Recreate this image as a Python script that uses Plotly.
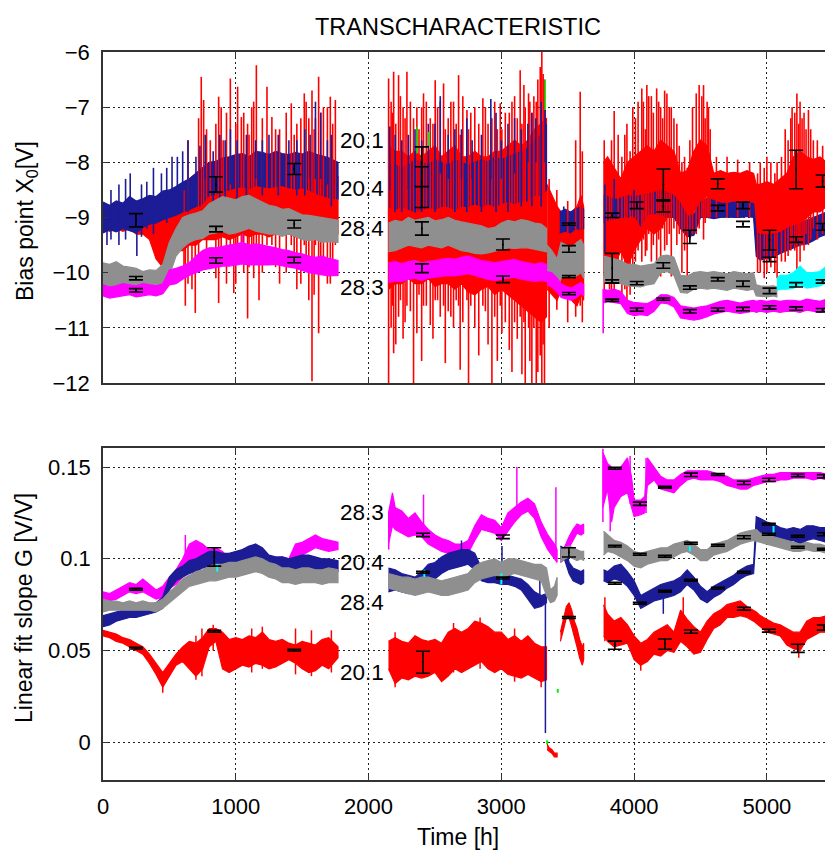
import plotly.graph_objects as go

# ---------------- time grids (hours) ----------------
SEG1_T = [0, 50, 100, 150, 200, 250, 300, 350, 400, 450, 500, 550, 600, 650, 700, 750, 800, 850, 900, 950,
          1000, 1050, 1100, 1150, 1200, 1250, 1300, 1350, 1400, 1450, 1500, 1550, 1600, 1650, 1700, 1770]
SEG2_T = [2150, 2200, 2250, 2300, 2350, 2400, 2450, 2500, 2550, 2600, 2650, 2700, 2750, 2800, 2850, 2900,
          2950, 3000, 3050, 3100, 3150, 3200, 3250, 3300, 3340]
SEG4_T = [3770, 3800, 3850, 3900, 3950, 4000, 4050, 4100, 4150, 4200, 4250, 4300, 4350, 4400, 4450, 4500,
          4550, 4600, 4650, 4700, 4750, 4800, 4850, 4900, 4920, 4950, 5000, 5050, 5100, 5150, 5200, 5250,
          5300, 5350, 5400, 5450, 5500]
SEG3_T = [3345, 3380, 3420, 3450, 3490, 3530, 3570, 3600, 3620]

# ---------------- TOP PANEL: bias point X0 [V] (band low / high) ----------------
X0_RED_T = SEG1_T + [None] + SEG2_T + [None] + SEG3_T + [None] + SEG4_T
X0_RED_HI = [-8.8, -8.82, -8.85, -8.8, -8.8, -8.85, -8.9, -8.9, -8.85, -8.9, -8.8, -8.7, -8.5, -8.3, -8.2,
             -8.1, -8.15, -8.1, -8.0, -8.05, -8.1, -8.1, -8.05, -8.1, -8.15, -8.1, -8.1, -8.15, -8.1, -8.1,
             -8.15, -8.1, -8.15, -8.2, -8.2, -8.25] + [None] + \
            [-7.7, -7.8, -7.8, -7.9, -7.8, -7.9, -7.8, -7.7, -7.9, -7.8, -7.7, -7.9, -7.9, -7.8, -7.9, -7.9,
             -7.8, -7.8, -7.7, -7.6, -7.7, -7.6, -7.4, -7.3, -7.2] + [None] + \
            [-8.4, -8.6, -8.8, -8.9, -9.0, -8.9, -8.8, -8.6, -8.8] + [None] + \
            [-8.0, -7.9, -8.1, -8.3, -8.0, -7.9, -7.8, -7.7, -7.8, -7.6, -7.7, -7.8, -8.2, -8.15, -7.8, -7.6,
             -7.7, -8.2, -8.15, -8.2, -8.18, -8.2, -8.15, -8.2, -8.4, -8.4, -8.35, -8.4, -8.3, -8.2, -7.9,
             -7.8, -7.9, -7.95, -7.9, -8.0, -7.9]
X0_RED_LO = [-9.2, -9.25, -9.2, -9.25, -9.2, -9.3, -9.3, -9.4, -9.75, -9.9, -9.7, -9.6, -9.6, -9.5, -9.5,
             -9.4, -9.4, -9.4, -9.35, -9.4, -9.35, -9.3, -9.35, -9.3, -9.3, -9.35, -9.3, -9.3, -9.3, -9.35,
             -9.3, -9.35, -9.4, -9.35, -9.3, -9.3] + [None] + \
            [-10.3, -10.2, -10.2, -10.1, -10.2, -10.2, -10.1, -10.25, -10.2, -10.2, -10.3, -10.2, -10.35,
             -10.4, -10.3, -10.25, -10.4, -10.3, -10.4, -10.5, -10.6, -10.7, -10.8, -10.9, -10.8] + [None] + \
            [-10.3, -10.4, -10.5, -10.3, -10.4, -10.5, -10.6, -10.4, -10.5] + [None] + \
            [-10.05, -10.0, -9.9, -9.6, -9.9, -9.6, -9.4, -9.2, -9.3, -9.2, -9.0, -8.9, -9.2, -9.3, -8.9, -8.7,
             -8.6, -8.8, -8.8, -8.8, -8.82, -8.8, -8.85, -8.9, -9.5, -9.55, -9.5, -9.5, -9.4, -9.3, -9.2,
             -9.1, -9.0, -8.9, -8.9, -8.8, -8.9]

X0_BLUE_T = SEG1_T + [None] + SEG2_T + [None] + [3440, 3480, 3520, 3560, 3600, 3620] + [None] + SEG4_T
X0_BLUE_HI = [-8.72, -8.78, -8.7, -8.74, -8.62, -8.7, -8.66, -8.6, -8.62, -8.52, -8.5, -8.44, -8.36, -8.3,
              -8.2, -8.1, -8.0, -7.98, -7.92, -7.9, -7.86, -7.84, -7.9, -7.8, -7.82, -7.86, -7.8, -7.84,
              -7.86, -7.82, -7.85, -7.8, -7.85, -7.88, -7.92, -8.0] + [None] + \
             [-8.0, -8.05, -8.1, -8.05, -7.95, -8.0, -8.05, -7.95, -8.0, -8.05, -7.95, -8.0, -8.05, -8.0,
              -7.95, -8.0, -7.9, -7.95, -7.9, -7.85, -7.8, -7.75, -7.6, -7.5, -7.3] + [None] + \
             [-8.9, -8.85, -8.9, -8.85, -8.8, -8.85] + [None] + \
             [-8.6, -8.62, -8.68, -8.65, -8.6, -8.62, -8.6, -8.58, -8.55, -8.5, -8.55, -8.6, -8.75, -8.98,
              -8.95, -8.72, -8.65, -8.7, -8.74, -8.75, -8.72, -8.74, -8.72, -8.75, -9.28, -9.3, -9.32, -9.3,
              -9.28, -9.2, -9.15, -9.1, -9.05, -9.0, -8.95, -8.9, -8.9]
X0_BLUE_LO = [-9.28, -9.22, -9.26, -9.2, -9.24, -9.28, -9.18, -9.12, -9.1, -9.04, -9.0, -8.96, -8.9, -8.86,
              -8.8, -8.74, -8.6, -8.58, -8.52, -8.5, -8.46, -8.44, -8.48, -8.42, -8.44, -8.46, -8.44, -8.42,
              -8.46, -8.48, -8.46, -8.5, -8.56, -8.6, -8.64, -8.66] + [None] + \
             [-8.8, -8.85, -8.8, -8.85, -8.9, -8.85, -8.8, -8.85, -8.8, -8.8, -8.85, -8.8, -8.8, -8.75, -8.8,
              -8.75, -8.8, -8.75, -8.7, -8.75, -8.7, -8.7, -8.6, -8.6, -8.5] + [None] + \
             [-9.28, -9.25, -9.28, -9.2, -9.22, -9.2] + [None] + \
             [-9.1, -9.05, -9.02, -9.0, -9.0, -8.95, -9.15, -8.95, -8.92, -8.95, -9.0, -9.0, -9.2, -9.35,
              -9.32, -9.0, -9.0, -9.02, -9.0, -8.99, -9.0, -9.0, -8.98, -9.0, -9.7, -9.77, -9.75, -9.72,
              -9.65, -9.6, -9.55, -9.5, -9.48, -9.42, -9.35, -9.3, -9.3]

X0_GRAY_T = SEG1_T + [None] + SEG2_T + [None] + SEG3_T + [None] + \
            [3770, 3800, 3850, 3900, 3950, 4000, 4050, 4100, 4150, 4200, 4250, 4300, 4350, 4400, 4450, 4500,
             4550, 4600, 4650, 4700, 4750, 4800, 4850, 4900, 4920, 4950, 5000, 5050, 5075]
X0_GRAY_HI = [-9.82, -9.85, -9.8, -9.88, -9.9, -9.92, -9.98, -9.95, -9.96, -9.85, -9.45, -9.2, -9.0, -8.95,
              -8.92, -8.88, -8.75, -8.68, -8.62, -8.65, -8.68, -8.62, -8.6, -8.66, -8.72, -8.78, -8.8, -8.85,
              -8.84, -8.9, -8.95, -8.96, -8.98, -9.0, -9.02, -9.05] + [None] + \
             [-9.1, -9.05, -9.08, -9.0, -9.05, -9.02, -9.0, -9.06, -9.04, -9.0, -9.05, -9.08, -9.1, -9.12,
              -9.15, -9.2, -9.18, -9.1, -9.05, -9.08, -9.04, -9.06, -9.1, -9.12, -9.2] + [None] + \
             [-9.5, -9.6, -9.75, -9.45, -9.5, -9.55, -9.45, -9.4, -9.5] + [None] + \
             [-9.7, -9.72, -9.75, -9.78, -9.85, -9.85, -9.88, -9.86, -9.84, -9.7, -9.68, -9.72, -10.05,
              -10.06, -10.0, -9.98, -10.0, -9.98, -10.0, -10.02, -9.98, -10.0, -10.02, -10.0, -10.22, -10.24,
              -10.25, -10.24, -10.26]
X0_GRAY_LO = [-10.3, -10.34, -10.3, -10.28, -10.32, -10.36, -10.35, -10.38, -10.34, -10.3, -10.05, -9.7,
              -9.55, -9.45, -9.4, -9.38, -9.3, -9.28, -9.25, -9.3, -9.28, -9.24, -9.2, -9.25, -9.28, -9.3,
              -9.3, -9.34, -9.3, -9.35, -9.4, -9.42, -9.4, -9.45, -9.44, -9.45] + [None] + \
             [-9.62, -9.6, -9.55, -9.5, -9.52, -9.55, -9.5, -9.52, -9.55, -9.5, -9.55, -9.6, -9.62, -9.65,
              -9.66, -9.64, -9.62, -9.58, -9.55, -9.56, -9.55, -9.55, -9.58, -9.6, -9.62] + [None] + \
             [-9.95, -10.1, -10.3, -10.1, -10.05, -10.1, -10.05, -10.0, -10.1] + [None] + \
             [-10.15, -10.2, -10.18, -10.2, -10.24, -10.25, -10.26, -10.22, -10.2, -10.0, -9.98, -10.05,
              -10.36, -10.37, -10.3, -10.28, -10.3, -10.28, -10.3, -10.32, -10.28, -10.3, -10.32, -10.3,
              -10.42, -10.43, -10.44, -10.42, -10.44]

X0_MAG_T = SEG1_T + [None] + SEG2_T + [None] + SEG3_T + [None] + SEG4_T
X0_MAG_HI = [-10.22, -10.26, -10.24, -10.2, -10.22, -10.24, -10.2, -10.22, -10.24, -10.2, -9.95, -9.92,
             -9.88, -9.82, -9.7, -9.6, -9.55, -9.55, -9.52, -9.5, -9.48, -9.45, -9.5, -9.48, -9.5, -9.52,
             -9.55, -9.58, -9.6, -9.64, -9.66, -9.7, -9.72, -9.7, -9.74, -9.78] + [None] + \
            [-9.82, -9.8, -9.84, -9.8, -9.78, -9.82, -9.8, -9.78, -9.75, -9.74, -9.76, -9.72, -9.7, -9.74,
             -9.78, -9.8, -9.82, -9.8, -9.78, -9.76, -9.8, -9.82, -9.85, -9.82, -9.85] + [None] + \
            [-9.98, -10.0, -10.1, -10.2, -10.25, -10.28, -10.22, -10.18, -10.22] + [None] + \
            [-10.3, -10.32, -10.3, -10.34, -10.5, -10.54, -10.55, -10.56, -10.5, -10.4, -10.4, -10.45, -10.6,
             -10.62, -10.64, -10.62, -10.6, -10.56, -10.52, -10.5, -10.52, -10.55, -10.52, -10.5, -10.52,
             -10.5, -10.52, -10.5, -10.52, -10.5, -10.5, -10.52, -10.48, -10.5, -10.52, -10.48, -10.5]
X0_MAG_LO = [-10.42, -10.46, -10.44, -10.42, -10.4, -10.44, -10.42, -10.4, -10.42, -10.38, -10.22, -10.2,
             -10.12, -10.05, -10.0, -9.95, -9.92, -9.9, -9.88, -9.88, -9.86, -9.84, -9.86, -9.85, -9.86,
             -9.86, -9.85, -9.88, -9.9, -9.92, -9.96, -10.0, -10.02, -10.04, -10.06, -10.05] + [None] + \
            [-10.18, -10.15, -10.16, -10.12, -10.1, -10.14, -10.1, -10.08, -10.06, -10.05, -10.06, -10.04,
             -10.02, -10.05, -10.08, -10.12, -10.14, -10.12, -10.1, -10.08, -10.12, -10.14, -10.16, -10.14,
             -10.16] + [None] + \
            [-10.22, -10.26, -10.35, -10.45, -10.48, -10.5, -10.44, -10.38, -10.42] + [None] + \
            [-10.55, -10.52, -10.54, -10.56, -10.74, -10.78, -10.76, -10.78, -10.7, -10.55, -10.56, -10.62,
             -10.82, -10.84, -10.86, -10.84, -10.8, -10.75, -10.72, -10.7, -10.72, -10.74, -10.72, -10.7,
             -10.72, -10.7, -10.72, -10.7, -10.72, -10.7, -10.7, -10.72, -10.68, -10.7, -10.72, -10.7, -10.7]

X0_CYAN_T = [5075, 5100, 5150, 5200, 5250, 5300, 5350, 5400, 5450, 5500]
X0_CYAN_HI = [-10.1, -10.05, -10.05, -10.0, -9.88, -10.0, -10.0, -9.98, -9.88, -9.92]
X0_CYAN_LO = [-10.32, -10.3, -10.3, -10.28, -10.22, -10.28, -10.26, -10.24, -10.18, -10.2]

# spikes (hour, low, high)
X0_RED_SPIKE_X = [620, 670, 695, 740, 758, 808, 871, 905, 959, 985, 1014, 1042, 1089, 1120, 1155, 1175, 1235,
                  1272, 1330, 1418, 1460, 1516, 1550, 1574, 1600, 1624, 1660, 1712, 1750,
                  610, 640, 720, 780, 850, 890, 930, 1000, 1060, 1100, 1135, 1200, 1300, 1380, 1440, 1490,
                  1530, 1590, 1640, 1690, 1730,
                  2151, 2170, 2189, 2226, 2260, 2289, 2339, 2364, 2414, 2465, 2502, 2540, 2565, 2578, 2620,
                  2678, 2690, 2741, 2753, 2800, 2861, 2900, 2929, 2992, 3004, 3060, 3100, 3142, 3155, 3180,
                  3205, 3230, 3263, 3293, 3305, 3325,
                  2180, 2205, 2240, 2275, 2315, 2380, 2400, 2435, 2485, 2520, 2600, 2640, 2660, 2710, 2770,
                  2830, 2880, 2950, 2970, 3030, 3080, 3120, 3170, 3215, 3245, 3275, 3315,
                  3360, 3418, 3500, 3560, 3594, 3610,
                  3775, 3815, 3850, 3908, 3946, 3990, 4058, 4096, 4130, 4170, 4200, 4247, 4280, 4322, 4360,
                  4400, 4468, 4490, 4523, 4550, 4573, 4620, 4700, 4780, 4870, 4950, 5000, 5077, 5138, 5180,
                  5226, 5250, 5280, 5313, 5380, 5464,
                  4010, 4030, 4070, 4085, 4110, 4145, 4185, 4215, 4230, 4265, 4300, 4340, 4380, 4420, 4440,
                  4510, 4535, 4560, 3790, 3830, 3880, 3930, 3970, 5190, 5210, 5240, 5265, 5295, 5330, 5350,
                  5420, 5490, 4930, 4980, 5030, 5060, 5110, 5160]
X0_RED_SPIKE_LO = [-10.6, -10.3, -10.73, -9.0, -9.0, -9.0, -10.55, -9.0, -9.5, -10.37, -9.5, -9.5, -10.83,
                   -9.5, -9.5, -10.5, -9.5, -9.5, -10.2, -9.5, -10.3, -9.5, -10.5, -11.97, -9.5, -11.1,
                   -10.0, -10.2, -9.5,
                   -10.0, -10.2, -10.0, -9.9, -10.1, -9.8, -10.2, -10.2, -10.0, -9.9, -10.1, -10.0, -9.9,
                   -10.0, -9.8, -10.2, -9.9, -10.4, -10.0, -10.2, -9.8,
                   -12.0, -11.0, -11.46, -10.8, -11.2, -10.6, -12.0, -11.1, -10.6, -10.95, -10.5, -10.8,
                   -10.6, -11.64, -10.8, -10.6, -11.76, -10.5, -12.0, -11.0, -10.6, -11.3, -12.0, -10.6,
                   -11.1, -11.4, -10.9, -10.8, -11.84, -12.0, -11.0, -12.0, -12.0, -11.5, -12.0, -12.0,
                   -10.6, -11.3, -10.5, -10.9, -10.7, -10.4, -11.6, -10.6, -11.2, -10.5, -10.7, -11.0, -10.5,
                   -10.9, -10.6, -11.5, -10.7, -10.8, -11.6, -10.9, -11.8, -11.2, -10.9, -11.6, -11.0, -11.8,
                   -11.3,
                   -11.0, -10.67, -10.9, -10.8, -10.6, -10.9,
                   -10.5, -10.3, -10.3, -10.5, -10.5, -10.1, -9.8, -9.6, -9.8, -9.9, -10.07, -9.5, -10.07,
                   -9.5, -10.0, -10.07, -9.3, -9.2, -9.4, -9.0, -9.0, -9.0, -9.0, -9.0, -9.0, -10.0, -10.0,
                   -10.1, -9.8, -9.6, -10.0, -9.8, -9.6, -9.5, -9.4, -9.3,
                   -9.8, -9.6, -9.4, -9.7, -9.3, -9.5, -9.4, -9.2, -9.6, -9.3, -9.2, -9.3, -9.6, -9.4, -9.3,
                   -9.0, -9.1, -9.0, -10.0, -10.3, -10.2, -10.3, -10.4, -9.5, -9.6, -9.4, -9.5, -9.3, -9.4,
                   -9.2, -9.3, -9.2, -10.0, -10.1, -9.9, -10.0, -9.8, -9.7]
X0_RED_SPIKE_HI = [-9.0, -9.0, -9.0, -6.45, -6.87, -7.6, -6.81, -7.6, -6.48, -8.5, -6.63, -7.18, -7.3, -7.0,
                   -6.24, -8.5, -6.63, -7.18, -7.4, -6.93, -7.3, -6.75, -7.2, -6.7, -7.2, -6.45, -7.0, -6.81,
                   -6.87,
                   -8.5, -7.6, -7.2, -7.4, -7.3, -7.0, -7.1, -7.3, -7.1, -7.5, -6.9, -7.2, -7.4, -7.1, -7.5,
                   -7.2, -6.9, -7.4, -7.1, -7.0, -7.3,
                   -6.48, -6.9, -6.36, -6.42, -7.0, -6.36, -7.2, -7.0, -6.75, -7.2, -6.51, -6.9, -6.57, -7.4,
                   -6.9, -6.42, -7.5, -7.05, -7.4, -7.0, -6.84, -7.3, -7.2, -6.93, -7.4, -7.1, -6.8, -6.33,
                   -7.3, -7.0, -6.75, -7.1, -6.9, -6.27, -6.0, -6.5,
                   -7.1, -7.3, -6.8, -7.2, -6.9, -7.4, -7.0, -6.9, -7.3, -7.0, -7.2, -6.9, -7.3, -6.8, -7.1,
                   -7.3, -7.0, -6.9, -7.4, -7.1, -6.9, -7.2, -6.6, -6.9, -6.8, -6.5, -6.4,
                   -8.3, -8.5, -8.7, -7.6, -6.72, -7.8,
                   -7.6, -7.96, -7.07, -7.9, -7.3, -7.0, -6.66, -6.6, -6.8, -6.66, -7.0, -6.75, -7.0, -7.3,
                   -8.0, -8.1, -6.75, -6.6, -6.6, -6.9, -7.4, -7.9, -7.9, -7.95, -8.0, -8.0, -7.9, -8.0,
                   -7.4, -7.2, -6.75, -6.9, -7.1, -7.05, -7.6, -7.9,
                   -7.2, -6.9, -6.9, -7.4, -6.8, -7.1, -6.9, -7.2, -6.7, -7.0, -7.2, -7.7, -7.9, -7.6, -7.0,
                   -6.8, -7.2, -7.0, -8.0, -7.6, -7.5, -7.5, -7.8, -7.0, -7.1, -7.3, -7.2, -7.4, -7.4, -7.6,
                   -7.7, -7.8, -8.2, -8.1, -8.0, -8.2, -7.9, -7.6]

X0_BLUE_SPIKE_X = [30, 205, 255, 330, 440, 520, 560, 700, 770, 830, 960, 1010, 1150, 1250, 1400, 1560, 1600,
                   1640, 1690, 2160, 2300, 2450, 2540, 2600, 2700, 2780, 2921, 3000, 3100, 3200, 3260, 3330,
                   3470, 3780, 3850, 4000,
                   60, 120, 170, 290, 380, 480, 600, 640, 730, 880, 920, 1080, 1200, 1320, 1460, 1520, 1720,
                   2200, 2250, 2350, 2400, 2500, 2650, 2740, 2850, 2960, 3050, 3150, 3230, 3300]
X0_BLUE_SPIKE_LO = [-9.5, -9.0, -9.7, -9.2, -9.0, -8.6, -8.6, -8.4, -8.3, -8.8, -8.4, -8.8, -8.3, -8.3, -8.3,
                    -8.3, -8.3, -8.3, -8.4, -8.5, -8.5, -8.3, -8.2, -8.3, -8.3, -8.3, -8.3, -8.3, -8.2, -8.0,
                    -8.0, -8.0, -9.0, -9.65, -9.0, -9.0,
                    -9.4, -9.5, -9.4, -9.35, -9.3, -9.1, -8.9, -8.9, -8.8, -8.7, -8.7, -8.6, -8.6, -8.6, -8.6,
                    -8.6, -8.8, -8.9, -8.9, -8.9, -8.9, -8.9, -8.9, -8.9, -8.9, -8.9, -8.9, -8.8, -8.8, -8.8]
X0_BLUE_SPIKE_HI = [-8.9, -8.2, -9.0, -8.35, -8.2, -7.9, -7.9, -7.9, -7.5, -7.8, -7.4, -7.6, -7.6, -7.5, -7.6,
                    -7.5, -6.9, -7.1, -7.6, -7.35, -7.5, -7.3, -6.8, -7.5, -7.4, -7.6, -6.85, -7.6, -7.2, -7.3,
                    -7.2, -7.05, -8.8, -8.4, -8.3, -8.5,
                    -8.5, -8.4, -8.3, -8.4, -8.1, -8.1, -7.8, -7.6, -7.7, -7.5, -7.6, -7.5, -7.6, -7.5, -7.6,
                    -7.4, -7.5, -7.5, -7.6, -7.4, -7.6, -7.3, -7.4, -7.2, -7.5, -7.1, -7.3, -7.4, -7.1, -6.9]

X0_MAG_SPIKE_X = [1050, 3767]
X0_MAG_SPIKE_LO = [-9.7, -11.1]
X0_MAG_SPIKE_HI = [-9.3, -10.3]

X0_GREEN_X = [2365, 2452, 3330]
X0_GREEN_LO = [-7.84, -7.7, -7.05]
X0_GREEN_HI = [-7.36, -7.45, -6.5]

X0_ERR_X = [248, 851, 1440, 2402, 2402, 3509, 3835, 4020, 4220, 4420, 4630, 4820, 5020, 5020, 5220, 5420,
            3509, 3835, 4220, 4630, 4820, 5220, 5420,
            248, 851, 1440, 2402, 3012, 3509, 3835, 4020, 4220, 4420, 4630, 4820, 5020,
            248, 851, 1440, 2402, 3012, 3509, 3835, 4020, 4220, 4420, 4630, 4820, 5020, 5220, 5420,
            5220, 5420]
X0_ERR_Y = [-9.05, -8.4, -8.12, -8.27, -8.26, -9.12, -8.96, -8.78, -8.8, -9.35, -8.83, -9.12, -9.41, -9.76,
            -9.4, -9.17,
            -9.57, -9.92, -8.4, -8.39, -8.78, -8.13, -8.34,
            -10.1, -9.21, -9.12, -9.2, -9.49, -10.07, -10.16, -10.19, -9.87, -10.27, -10.12, -10.2, -10.33,
            -10.32, -9.78, -9.77, -9.92, -10.12, -10.38, -10.5, -10.67, -10.48, -10.7, -10.67, -10.66,
            -10.63, -10.65, -10.68,
            -10.22, -10.16]
X0_ERR_E = [0.12, 0.14, 0.1, 0.55, 0.18, 0.02, 0.04, 0.06, 0.1, 0.12, 0.05, 0.05, 0.18, 0.04, 0.05, 0.06,
            0.06, 0.27, 0.28, 0.09, 0.06, 0.35, 0.11,
            0.03, 0.05, 0.07, 0.12, 0.1, 0.02, 0.03, 0.03, 0.05, 0.03, 0.03, 0.05, 0.05,
            0.03, 0.05, 0.05, 0.08, 0.06, 0.02, 0.02, 0.03, 0.02, 0.03, 0.03, 0.03, 0.03, 0.03, 0.03,
            0.04, 0.03]

# ---------------- BOTTOM PANEL: linear fit slope G [V/V] ----------------
G_RED_T = SEG1_T + [None] + SEG2_T + [None] + [3345, 3360, 3380, 3400, 3420] + [None] + \
          [3445, 3470, 3490, 3510, 3530, 3550, 3570, 3590, 3610, 3620] + [None] + SEG4_T
G_RED_LO = [0.058, 0.057, 0.055, 0.054, 0.052, 0.050, 0.048, 0.043, 0.037, 0.030, 0.036, 0.042, 0.044, 0.040,
            0.036, 0.040, 0.052, 0.055, 0.040, 0.038, 0.040, 0.042, 0.041, 0.043, 0.042, 0.040, 0.041, 0.043,
            0.045, 0.043, 0.040, 0.038, 0.039, 0.042, 0.040, 0.046] + [None] + \
           [0.040, 0.032, 0.035, 0.034, 0.036, 0.035, 0.036, 0.038, 0.033, 0.036, 0.040, 0.038, 0.040, 0.042,
            0.044, 0.040, 0.038, 0.040, 0.037, 0.036, 0.035, 0.037, 0.035, 0.033, 0.034] + [None] + \
           [-0.004, -0.005, -0.006, -0.008, -0.008] + [None] + \
           [0.055, 0.062, 0.068, 0.068, 0.063, 0.058, 0.052, 0.046, 0.042, 0.045] + [None] + \
           [0.058, 0.055, 0.052, 0.053, 0.054, 0.045, 0.042, 0.044, 0.048, 0.047, 0.050, 0.049, 0.055, 0.052,
            0.048, 0.049, 0.056, 0.062, 0.064, 0.068, 0.068, 0.069, 0.068, 0.066, 0.065, 0.063, 0.060, 0.059,
            0.058, 0.053, 0.051, 0.050, 0.056, 0.058, 0.060, 0.060, 0.061]
G_RED_HI = [0.061, 0.060, 0.059, 0.057, 0.056, 0.054, 0.052, 0.048, 0.043, 0.038, 0.043, 0.048, 0.052, 0.055,
            0.054, 0.057, 0.062, 0.062, 0.060, 0.056, 0.057, 0.056, 0.058, 0.057, 0.060, 0.056, 0.055, 0.056,
            0.054, 0.053, 0.055, 0.054, 0.053, 0.056, 0.057, 0.052] + [None] + \
           [0.055, 0.057, 0.055, 0.054, 0.058, 0.056, 0.055, 0.056, 0.054, 0.060, 0.062, 0.060, 0.062, 0.066,
            0.065, 0.063, 0.060, 0.060, 0.056, 0.058, 0.055, 0.058, 0.054, 0.052, 0.052] + [None] + \
           [-0.001, -0.003, -0.004, -0.006, -0.006] + [None] + \
           [0.060, 0.068, 0.074, 0.076, 0.072, 0.066, 0.062, 0.056, 0.052, 0.054] + [None] + \
           [0.075, 0.070, 0.066, 0.068, 0.064, 0.058, 0.054, 0.056, 0.060, 0.062, 0.064, 0.060, 0.072, 0.067,
            0.063, 0.060, 0.066, 0.070, 0.072, 0.075, 0.076, 0.077, 0.074, 0.072, 0.071, 0.069, 0.067, 0.065,
            0.064, 0.062, 0.060, 0.060, 0.066, 0.068, 0.068, 0.069, 0.070]

G_MAG_T = SEG1_T + [None] + \
          [2150, 2180, 2200, 2250, 2300, 2350, 2400, 2450, 2500, 2550, 2600, 2650, 2700, 2750, 2800, 2850,
           2900, 2950, 3000, 3050, 3100, 3150, 3200, 3250, 3300, 3350, 3400, 3420] + [None] + \
          [3445, 3480, 3510, 3540, 3570, 3600, 3620] + [None] + \
          [3765, 3800, 3830, 3850, 3900, 3950, 3980, 4000, 4050, 4080, 4100, 4150, 4200, 4250, 4300, 4350,
           4400, 4450, 4500, 4550, 4600, 4650, 4700, 4750, 4800, 4850, 4900, 4950, 5000, 5050, 5100, 5150,
           5200, 5250, 5300, 5350, 5400, 5450, 5500]
G_MAG_LO = [0.078, 0.077, 0.078, 0.080, 0.082, 0.081, 0.082, 0.080, 0.078, 0.079, 0.084, 0.086, 0.090, 0.096,
            0.099, 0.097, 0.095, 0.096, 0.094, 0.092, 0.094, 0.096, 0.098, 0.099, 0.096, 0.095, 0.094, 0.094,
            0.093, 0.100, 0.102, 0.104, 0.106, 0.105, 0.104, 0.105] + [None] + \
           [0.108, 0.118, 0.116, 0.114, 0.112, 0.113, 0.112, 0.108, 0.106, 0.104, 0.103, 0.102, 0.102, 0.103,
            0.110, 0.116, 0.115, 0.114, 0.110, 0.115, 0.120, 0.124, 0.126, 0.122, 0.112, 0.105, 0.100,
            0.098] + [None] + \
           [0.098, 0.100, 0.106, 0.110, 0.114, 0.113, 0.114] + [None] + \
           [0.128, 0.138, 0.120, 0.128, 0.134, 0.136, 0.128, 0.123, 0.124, 0.125, 0.140, 0.143, 0.138, 0.137,
            0.136, 0.140, 0.143, 0.144, 0.143, 0.143, 0.143, 0.142, 0.140, 0.139, 0.138, 0.138, 0.140, 0.141,
            0.142, 0.142, 0.143, 0.143, 0.144, 0.144, 0.144, 0.143, 0.144, 0.143, 0.143]
G_MAG_HI = [0.082, 0.081, 0.083, 0.085, 0.087, 0.086, 0.089, 0.086, 0.083, 0.085, 0.090, 0.094, 0.100, 0.108,
            0.110, 0.108, 0.105, 0.106, 0.104, 0.100, 0.101, 0.105, 0.106, 0.108, 0.104, 0.100, 0.100, 0.101,
            0.100, 0.108, 0.109, 0.111, 0.113, 0.111, 0.110, 0.109] + [None] + \
           [0.125, 0.136, 0.128, 0.126, 0.122, 0.125, 0.120, 0.116, 0.113, 0.111, 0.110, 0.108, 0.108, 0.110,
            0.118, 0.124, 0.122, 0.121, 0.117, 0.125, 0.128, 0.131, 0.133, 0.130, 0.120, 0.113, 0.108,
            0.105] + [None] + \
           [0.104, 0.107, 0.112, 0.116, 0.119, 0.118, 0.119] + [None] + \
           [0.158, 0.152, 0.150, 0.148, 0.150, 0.155, 0.145, 0.132, 0.132, 0.134, 0.155, 0.150, 0.145, 0.143,
            0.143, 0.146, 0.148, 0.148, 0.148, 0.148, 0.147, 0.146, 0.145, 0.143, 0.143, 0.143, 0.144, 0.145,
            0.146, 0.146, 0.147, 0.147, 0.147, 0.147, 0.147, 0.147, 0.147, 0.146, 0.147]

G_BLUE_T = SEG1_T + [None] + SEG2_T + [None] + [3445, 3470, 3490, 3510, 3540, 3570, 3600, 3620] + [None] + SEG4_T
G_BLUE_LO = [0.063, 0.064, 0.066, 0.067, 0.068, 0.068, 0.069, 0.070, 0.071, 0.073, 0.083, 0.088, 0.090, 0.092,
             0.093, 0.095, 0.095, 0.096, 0.095, 0.096, 0.097, 0.098, 0.099, 0.100, 0.098, 0.096, 0.095, 0.095,
             0.094, 0.094, 0.095, 0.094, 0.093, 0.093, 0.092, 0.093] + [None] + \
            [0.082, 0.083, 0.082, 0.081, 0.082, 0.084, 0.088, 0.089, 0.092, 0.094, 0.095, 0.096, 0.097, 0.094,
             0.088, 0.087, 0.087, 0.086, 0.086, 0.085, 0.083, 0.078, 0.073, 0.074, 0.076] + [None] + \
            [0.100, 0.101, 0.097, 0.092, 0.088, 0.087, 0.086, 0.087] + [None] + \
            [0.088, 0.087, 0.089, 0.088, 0.085, 0.080, 0.073, 0.075, 0.077, 0.078, 0.079, 0.080, 0.082, 0.086,
             0.083, 0.078, 0.076, 0.079, 0.081, 0.084, 0.086, 0.089, 0.091, 0.092, 0.114, 0.114, 0.113, 0.111,
             0.110, 0.109, 0.110, 0.108, 0.110, 0.111, 0.110, 0.109, 0.109]
G_BLUE_HI = [0.069, 0.070, 0.071, 0.072, 0.073, 0.073, 0.074, 0.075, 0.076, 0.079, 0.090, 0.094, 0.096, 0.099,
             0.100, 0.102, 0.104, 0.104, 0.103, 0.103, 0.104, 0.105, 0.107, 0.108, 0.106, 0.102, 0.101, 0.101,
             0.100, 0.101, 0.102, 0.102, 0.101, 0.100, 0.100, 0.099] + [None] + \
            [0.095, 0.094, 0.092, 0.091, 0.090, 0.093, 0.097, 0.098, 0.101, 0.103, 0.104, 0.105, 0.105, 0.103,
             0.095, 0.094, 0.093, 0.092, 0.091, 0.090, 0.089, 0.086, 0.082, 0.080, 0.081] + [None] + \
            [0.107, 0.106, 0.105, 0.098, 0.095, 0.094, 0.093, 0.094] + [None] + \
            [0.094, 0.093, 0.096, 0.097, 0.093, 0.088, 0.080, 0.082, 0.084, 0.086, 0.087, 0.088, 0.090, 0.094,
             0.090, 0.085, 0.082, 0.085, 0.087, 0.089, 0.091, 0.094, 0.096, 0.097, 0.123, 0.122, 0.120, 0.119,
             0.117, 0.116, 0.117, 0.116, 0.118, 0.118, 0.117, 0.117, 0.116]

G_GRAY_T = SEG1_T + [None] + SEG2_T + [3370, 3400, 3420] + [None] + \
           [3445, 3480, 3510, 3540, 3570, 3600, 3620] + [None] + SEG4_T
G_GRAY_LO = [0.071, 0.072, 0.072, 0.072, 0.072, 0.072, 0.072, 0.072, 0.071, 0.073, 0.076, 0.079, 0.082, 0.085,
             0.086, 0.087, 0.088, 0.088, 0.089, 0.090, 0.090, 0.091, 0.092, 0.093, 0.092, 0.090, 0.089, 0.087,
             0.087, 0.086, 0.087, 0.087, 0.087, 0.086, 0.087, 0.087] + [None] + \
            [0.084, 0.083, 0.082, 0.081, 0.080, 0.081, 0.082, 0.081, 0.080, 0.080, 0.081, 0.082, 0.083, 0.087,
             0.089, 0.090, 0.091, 0.090, 0.091, 0.092, 0.091, 0.090, 0.089, 0.088, 0.080, 0.076, 0.077,
             0.080] + [None] + \
            [0.098, 0.100, 0.101, 0.100, 0.099, 0.100, 0.099] + [None] + \
            [0.102, 0.104, 0.103, 0.101, 0.099, 0.096, 0.095, 0.097, 0.098, 0.099, 0.099, 0.101, 0.103, 0.104,
             0.102, 0.099, 0.099, 0.102, 0.103, 0.104, 0.106, 0.108, 0.109, 0.110, 0.110, 0.109, 0.108, 0.107,
             0.106, 0.105, 0.104, 0.104, 0.105, 0.104, 0.104, 0.103, 0.103]
G_GRAY_HI = [0.078, 0.077, 0.077, 0.076, 0.077, 0.076, 0.077, 0.076, 0.076, 0.078, 0.082, 0.085, 0.089, 0.091,
             0.093, 0.094, 0.096, 0.097, 0.097, 0.098, 0.098, 0.099, 0.100, 0.101, 0.100, 0.098, 0.097, 0.095,
             0.095, 0.094, 0.095, 0.095, 0.094, 0.094, 0.095, 0.094] + [None] + \
            [0.092, 0.091, 0.090, 0.090, 0.089, 0.090, 0.090, 0.089, 0.088, 0.089, 0.090, 0.091, 0.092, 0.096,
             0.098, 0.099, 0.100, 0.098, 0.100, 0.100, 0.099, 0.098, 0.097, 0.097, 0.095, 0.083, 0.085,
             0.090] + [None] + \
            [0.105, 0.106, 0.107, 0.106, 0.105, 0.104, 0.104] + [None] + \
            [0.115, 0.113, 0.110, 0.109, 0.107, 0.104, 0.103, 0.104, 0.105, 0.106, 0.106, 0.108, 0.109, 0.110,
             0.108, 0.105, 0.105, 0.108, 0.109, 0.110, 0.112, 0.114, 0.115, 0.116, 0.116, 0.114, 0.113, 0.112,
             0.111, 0.110, 0.109, 0.108, 0.109, 0.108, 0.108, 0.107, 0.107]

G_RED_SPIKE_X = [450, 700, 745, 830, 1120, 1200, 1450, 1570, 1720, 2200, 2640, 2840, 3100, 3300, 3780, 4050,
                 4370, 5240, 5460]
G_RED_SPIKE_LO = [0.027, 0.034, 0.036, 0.050, 0.038, 0.040, 0.037, 0.036, 0.038, 0.030, 0.038, 0.040, 0.033,
                  0.030, 0.055, 0.039, 0.055, 0.046, 0.058]
G_RED_SPIKE_HI = [0.035, 0.058, 0.062, 0.064, 0.062, 0.063, 0.062, 0.061, 0.061, 0.060, 0.065, 0.068, 0.062,
                  0.050, 0.079, 0.050, 0.079, 0.058, 0.075]
G_MAG_SPIKE_X = [620, 2152, 2414, 3117, 3411, 3765, 3820, 3970, 4090]
G_MAG_SPIKE_LO = [0.095, 0.105, 0.118, 0.122, 0.102, 0.120, 0.115, 0.130, 0.125]
G_MAG_SPIKE_HI = [0.113, 0.125, 0.135, 0.150, 0.139, 0.160, 0.150, 0.156, 0.155]
G_BLUE_SPIKE_X = [2700, 3005, 3290, 3332, 4220]
G_BLUE_SPIKE_LO = [0.100, 0.090, 0.075, 0.005, 0.070]
G_BLUE_SPIKE_HI = [0.110, 0.107, 0.096, 0.078, 0.085]
G_CYAN_X = [860, 2420, 3000, 4420, 5050]
G_CYAN_LO = [0.093, 0.090, 0.086, 0.104, 0.114]
G_CYAN_HI = [0.097, 0.094, 0.092, 0.107, 0.118]
G_GREEN_X = [3345, 3425]
G_GREEN_LO = [-0.001, 0.027]
G_GREEN_HI = [0.001, 0.029]

G_ERR_X = [248, 838, 1440, 2410, 3509, 3855, 4232, 4428, 4827, 5015, 5233, 5429,
           248, 838, 2410, 3012, 3855, 4043, 4232, 4428, 4631, 4827, 5015, 5233, 5429,
           2410, 3012, 3509, 3855, 4043, 4232, 4428, 4631, 4827, 5015, 5233, 5429,
           3855, 4043, 4232, 4428, 4631, 4827, 5015, 5233, 5429]
G_ERR_Y = [0.0513, 0.0605, 0.0502, 0.0436, 0.068, 0.0529, 0.0535, 0.0603, 0.0728, 0.0608, 0.0512, 0.0625,
           0.0834, 0.101, 0.113, 0.112, 0.1494, 0.130, 0.139, 0.1458, 0.146, 0.1414, 0.143, 0.1455, 0.145,
           0.0927, 0.0895, 0.1035, 0.0867, 0.0758, 0.0823, 0.0883, 0.084, 0.0927, 0.1189, 0.1123, 0.1134,
           0.1069, 0.1025, 0.1014, 0.1085, 0.1074, 0.1118, 0.1134, 0.1063, 0.1052]
G_ERR_E = [0.0005, 0.0005, 0.0005, 0.006, 0.0005, 0.0022, 0.0028, 0.0009, 0.0008, 0.0008, 0.0022, 0.0014,
           0.0005, 0.005, 0.0009, 0.001, 0.0005, 0.0009, 0.0005, 0.0009, 0.0005, 0.0009, 0.0009, 0.0007, 0.0009,
           0.0005, 0.0005, 0.0025, 0.0005, 0.0005, 0.0005, 0.0005, 0.0005, 0.0005, 0.0005, 0.0005, 0.0008,
           0.0005, 0.0005, 0.0005, 0.0005, 0.0005, 0.0008, 0.0005, 0.0005, 0.0005]

X_TICKS = [0, 1000, 2000, 3000, 4000, 5000]
X0_TICKS = [-12, -11, -10, -9, -8, -7, -6]
G_TICKS = [0, 0.05, 0.1, 0.15]
G_TICK_TEXT = ['0', '0.05', '0.1', '0.15']

TOP_LABELS = ['20.1', '20.4', '28.4', '28.3']
BOTTOM_LABELS = ['28.3', '20.4', '28.4', '20.1']

# ---------------- colours ----------------
RED = '#ff0000'
BLUE = '#1c1c96'
GRAY = '#8f8f8f'
MAG = '#ff00ff'
CYAN = '#00ffff'
GREEN = '#00ee00'
FONT = 'Liberation Sans, Arial, sans-serif'

fig = go.Figure()


def segments(t, lo, hi):
    segs, cur = [], ([], [], [])
    for a, b, c in zip(t, lo, hi):
        if a is None:
            if cur[0]:
                segs.append(cur)
            cur = ([], [], [])
        else:
            cur[0].append(a)
            cur[1].append(b)
            cur[2].append(c)
    if cur[0]:
        segs.append(cur)
    return segs


def add_band(t, lo, hi, color, xa, ya):
    for ts, los, his in segments(t, lo, hi):
        fig.add_trace(go.Scatter(x=ts + ts[::-1], y=his + los[::-1], mode='lines', fill='toself',
                                 fillcolor=color, line=dict(color=color, width=1.2),
                                 hoverinfo='skip', showlegend=False, xaxis=xa, yaxis=ya))


def add_spikes(sx, slo, shi, color, width, xa, ya):
    xs, ys = [], []
    for a, b, c in zip(sx, slo, shi):
        xs += [a, a, None]
        ys += [b, c, None]
    fig.add_trace(go.Scatter(x=xs, y=ys, mode='lines', line=dict(color=color, width=width),
                             hoverinfo='skip', showlegend=False, xaxis=xa, yaxis=ya))


def add_err(ex, ey, ee, xa, ya):
    fig.add_trace(go.Scatter(x=ex, y=ey, mode='markers', marker=dict(size=2, color='black'),
                             error_y=dict(type='data', array=ee, visible=True, color='black',
                                          thickness=1.6, width=7),
                             hoverinfo='skip', showlegend=False, xaxis=xa, yaxis=ya))


# top panel (x2 / y2)
add_band(X0_RED_T, X0_RED_LO, X0_RED_HI, RED, 'x2', 'y2')
add_band(X0_BLUE_T, X0_BLUE_LO, X0_BLUE_HI, BLUE, 'x2', 'y2')
add_spikes(X0_RED_SPIKE_X, X0_RED_SPIKE_LO, X0_RED_SPIKE_HI, RED, 1.6, 'x2', 'y2')
add_spikes(X0_BLUE_SPIKE_X, X0_BLUE_SPIKE_LO, X0_BLUE_SPIKE_HI, BLUE, 1.6, 'x2', 'y2')
add_band(X0_GRAY_T, X0_GRAY_LO, X0_GRAY_HI, GRAY, 'x2', 'y2')
add_band(X0_MAG_T, X0_MAG_LO, X0_MAG_HI, MAG, 'x2', 'y2')
add_spikes(X0_MAG_SPIKE_X, X0_MAG_SPIKE_LO, X0_MAG_SPIKE_HI, MAG, 1.6, 'x2', 'y2')
add_band(X0_CYAN_T, X0_CYAN_LO, X0_CYAN_HI, CYAN, 'x2', 'y2')
add_spikes(X0_GREEN_X, X0_GREEN_LO, X0_GREEN_HI, GREEN, 1.5, 'x2', 'y2')
add_err(X0_ERR_X, X0_ERR_Y, X0_ERR_E, 'x2', 'y2')

# bottom panel (x / y)
add_band(G_RED_T, G_RED_LO, G_RED_HI, RED, 'x', 'y')
add_spikes(G_RED_SPIKE_X, G_RED_SPIKE_LO, G_RED_SPIKE_HI, RED, 1.5, 'x', 'y')
add_band(G_MAG_T, G_MAG_LO, G_MAG_HI, MAG, 'x', 'y')
add_spikes(G_MAG_SPIKE_X, G_MAG_SPIKE_LO, G_MAG_SPIKE_HI, MAG, 1.5, 'x', 'y')
add_band(G_BLUE_T, G_BLUE_LO, G_BLUE_HI, BLUE, 'x', 'y')
add_spikes(G_BLUE_SPIKE_X, G_BLUE_SPIKE_LO, G_BLUE_SPIKE_HI, BLUE, 1.5, 'x', 'y')
add_band(G_GRAY_T, G_GRAY_LO, G_GRAY_HI, GRAY, 'x', 'y')
add_spikes(G_CYAN_X, G_CYAN_LO, G_CYAN_HI, CYAN, 2, 'x', 'y')
add_spikes(G_GREEN_X, G_GREEN_LO, G_GREEN_HI, GREEN, 2, 'x', 'y')
add_err(G_ERR_X, G_ERR_Y, G_ERR_E, 'x', 'y')

# the page body adds an 8 px offset, so the figure is drawn 8 px smaller / earlier
OFF = 8
W, H = 833 - OFF, 855 - OFF
ML, MT, MB = 103 - OFF, 52 - OFF, 855 - 780
PW, PH = W - ML, H - MT - MB
XRANGE = [0, 5498]

axis_common = dict(showline=True, linecolor='#333333', linewidth=1.5, ticks='inside', ticklen=5,
                   tickcolor='#333333', tickwidth=1.2, showgrid=True, gridcolor='#222222', gridwidth=1.2,
                   griddash='1.5px,3.5px', zeroline=False, automargin=False,
                   tickfont=dict(family=FONT, size=22, color='black'))

fig.update_layout(
    width=W, height=H, margin=dict(l=ML, r=0, t=MT, b=MB, pad=0, autoexpand=False),
    paper_bgcolor='white', plot_bgcolor='white', showlegend=False,
    xaxis=dict(domain=[0, 1], range=XRANGE, anchor='y', tickvals=X_TICKS, mirror='ticks',
               ticklabelstandoff=6, **axis_common),
    yaxis=dict(domain=[0, (780 - 448) / PH], range=[-0.0206, 0.1604], anchor='x', tickvals=G_TICKS,
               ticktext=G_TICK_TEXT, ticklabelstandoff=6, **axis_common),
    xaxis2=dict(domain=[0, 1], range=XRANGE, anchor='y2', tickvals=X_TICKS, showticklabels=False,
                mirror='ticks', **axis_common),
    yaxis2=dict(domain=[(780 - 383) / PH, 1], range=[-12, -6], anchor='x2', tickvals=X0_TICKS,
                ticktext=['\u2212' + str(-v) for v in X0_TICKS], ticklabelstandoff=7, **axis_common),
)

ann = []


def txt(text, px, py, size=23, angle=0):
    # px, py: position in the reference image; paper coords refer to the plot area
    ann.append(dict(text=text, x=(px - 103) / PW, y=(780 - py) / PH, xref='paper', yref='paper',
                    showarrow=False, textangle=angle, xanchor='center', yanchor='middle',
                    font=dict(family=FONT, size=size, color='black')))


txt('TRANSCHARACTERISTIC', 457.5, 27, 23.5)
txt('Bias point X<sub>0</sub>[V]', 27, 221, 23, -90)
txt('Linear fit slope G [V/V]', 24, 608, 23, -90)
txt('Time [h]', 458, 837, 23)
for lab, py in zip(TOP_LABELS, [140, 188, 228, 287]):
    txt(lab, 362, py, 22.5)
for lab, py in zip(BOTTOM_LABELS, [512, 562, 602, 672]):
    txt(lab, 362, py, 22.5)

fig.update_layout(annotations=ann)
fig.write_html('out.html')
